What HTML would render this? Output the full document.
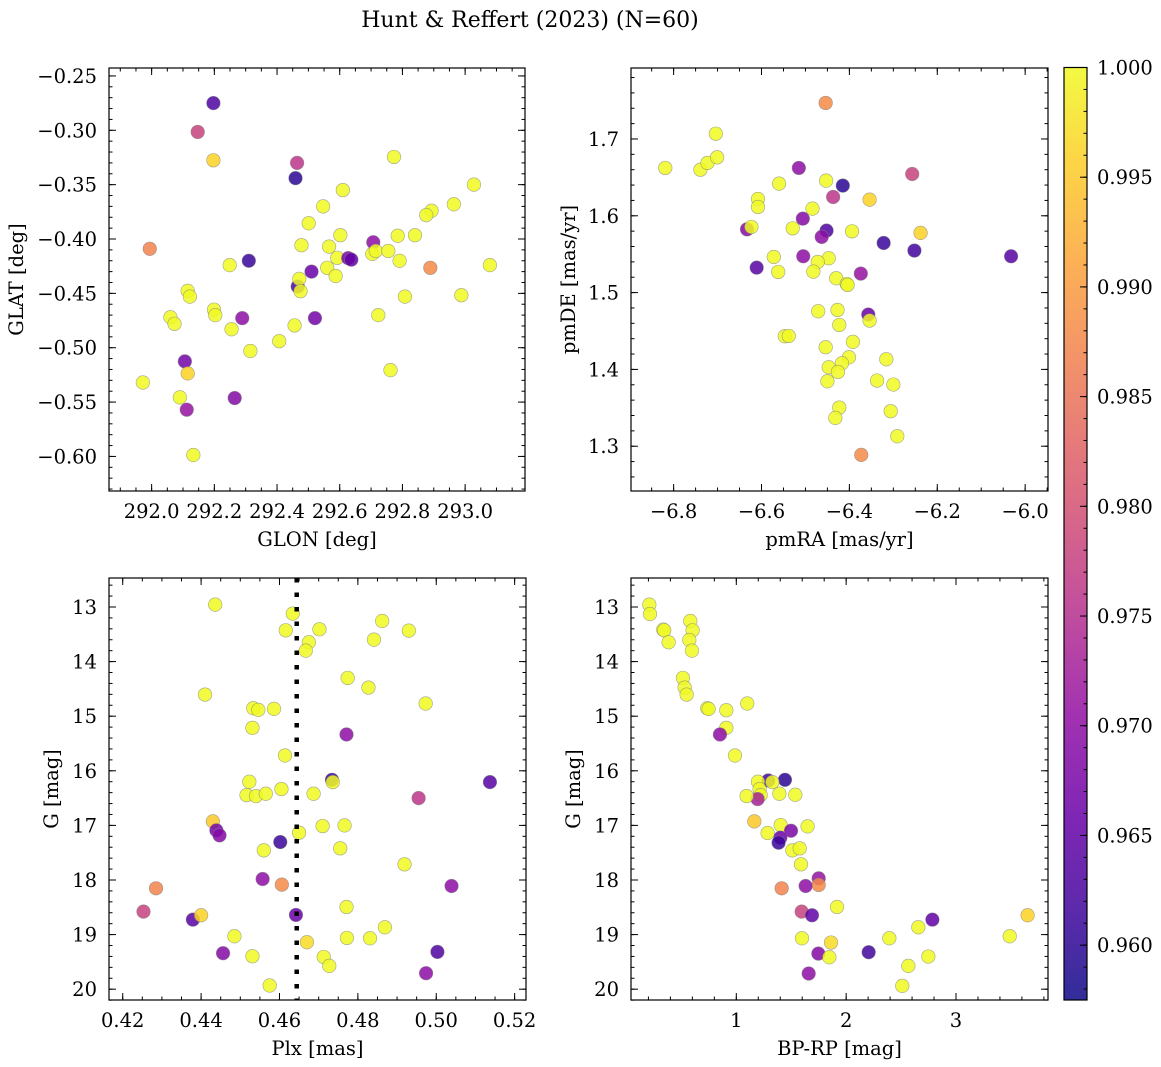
<!DOCTYPE html>
<html><head><meta charset="utf-8"><style>
html,body{margin:0;padding:0;background:#fff}
svg{display:block;font-family:"DejaVu Serif","Liberation Serif",serif}
</style></head><body>
<svg id="fig" width="1161" height="1067" viewBox="0 0 1161 1067" xmlns="http://www.w3.org/2000/svg"></svg>
<script>
// ---- Panel TL: GLON / GLAT ----
const tlGlon=[292.197,292.147,292.197,292.464,292.459,292.773,293.028,292.610,292.547,292.964,292.893,292.876,292.501,292.602,292.785,292.840,292.478,292.566,292.707,292.704,292.715,292.755,291.994,292.310,292.249,292.592,292.627,292.637,292.791,292.889,293.079,292.510,292.560,292.587,292.466,292.471,292.475,292.115,292.122,292.808,292.988,292.199,292.203,292.060,292.073,292.289,292.521,292.723,292.456,292.255,292.407,292.315,292.106,292.115,292.762,291.972,292.090,292.265,292.112,292.133];
const tlGlat=[-0.275,-0.3015,-0.3276,-0.330,-0.344,-0.3245,-0.350,-0.355,-0.370,-0.368,-0.374,-0.378,-0.3855,-0.3965,-0.397,-0.3965,-0.4057,-0.407,-0.403,-0.4137,-0.411,-0.411,-0.409,-0.420,-0.424,-0.4173,-0.4176,-0.419,-0.420,-0.4265,-0.424,-0.430,-0.4265,-0.434,-0.4437,-0.4367,-0.448,-0.4477,-0.453,-0.453,-0.4517,-0.465,-0.470,-0.472,-0.478,-0.4728,-0.4728,-0.470,-0.4795,-0.483,-0.494,-0.503,-0.5126,-0.5236,-0.5206,-0.532,-0.5457,-0.5463,-0.557,-0.5987];
const tlProb=[0.963,0.978,0.996,0.976,0.960,1,1,1,1,1,1,1,1,1,1,1,1,1,0.970,1,1,1,0.987,0.961,1,1,0.968,0.965,1,0.988,1,0.966,1,1,0.963,1,1,1,1,1,1,1,1,1,1,0.970,0.967,1,1,1,1,1,0.967,0.996,1,1,1,0.969,0.971,1];
// ---- Panel TR: pmRA / pmDE ----
const trPmra=[-6.454,-6.704,-6.819,-6.739,-6.723,-6.701,-6.515,-6.257,-6.560,-6.453,-6.415,-6.437,-6.354,-6.608,-6.608,-6.484,-6.506,-6.633,-6.623,-6.529,-6.452,-6.463,-6.394,-6.238,-6.322,-6.252,-6.032,-6.505,-6.572,-6.447,-6.472,-6.611,-6.562,-6.482,-6.374,-6.430,-6.406,-6.404,-6.471,-6.427,-6.357,-6.354,-6.423,-6.547,-6.538,-6.392,-6.454,-6.316,-6.401,-6.417,-6.447,-6.426,-6.450,-6.337,-6.300,-6.423,-6.432,-6.306,-6.291,-6.373];
const trPmde=[1.7469,1.7069,1.6623,1.660,1.6688,1.6761,1.6623,1.6544,1.6419,1.6458,1.6393,1.6245,1.621,1.6219,1.6115,1.6093,1.5963,1.5824,1.5855,1.5837,1.5807,1.5725,1.5798,1.5777,1.5646,1.5547,1.5473,1.5473,1.5464,1.5447,1.5399,1.5325,1.5269,1.5273,1.5247,1.5187,1.5113,1.510,1.4757,1.4774,1.4714,1.4636,1.4579,1.4432,1.4436,1.4358,1.4289,1.4132,1.4158,1.408,1.4028,1.3967,1.3846,1.3855,1.3803,1.3503,1.3369,1.3456,1.313,1.2887];
const trProb=[0.988,1,1,1,1,1,0.970,0.978,1,1,0.960,0.976,0.996,1,1,1,0.969,0.969,1,1,0.963,0.970,1,0.996,0.961,0.962,0.964,0.970,1,1,1,0.964,1,1,0.971,1,1,1,1,1,0.966,1,1,1,1,1,1,1,1,1,1,1,1,1,1,1,1,1,1,0.988];
// ---- Panel BL: Plx / G ----
const blPlx=[0.4436,0.4634,0.4616,0.4702,0.4675,0.4667,0.4862,0.4930,0.4841,0.4774,0.4827,0.4410,0.4973,0.4533,0.4546,0.4586,0.4531,0.4771,0.4614,0.4523,0.4734,0.4736,0.5137,0.4605,0.4516,0.4540,0.4565,0.4687,0.4955,0.4430,0.4439,0.4447,0.4650,0.4710,0.4766,0.4602,0.4560,0.4755,0.4919,0.4557,0.4606,0.5039,0.4285,0.4253,0.4771,0.4379,0.4400,0.4642,0.4869,0.4485,0.4670,0.4772,0.4831,0.4456,0.4531,0.4713,0.4727,0.5003,0.4974,0.4575];
const blG=[12.957,13.122,13.427,13.409,13.646,13.799,13.256,13.433,13.598,14.299,14.476,14.604,14.768,14.854,14.884,14.866,15.213,15.335,15.72,16.201,16.165,16.207,16.207,16.335,16.445,16.463,16.421,16.421,16.5,16.927,17.091,17.183,17.134,17.012,17.0,17.305,17.457,17.42,17.713,17.982,18.085,18.11,18.152,18.579,18.494,18.726,18.646,18.64,18.866,19.03,19.14,19.061,19.067,19.341,19.396,19.409,19.573,19.317,19.707,19.933];
const blProb=[1,1,1,1,1,1,1,1,1,1,1,1,1,1,1,1,1,0.970,1,1,0.961,1,0.964,1,1,1,1,1,0.976,0.995,0.967,0.969,1,1,1,0.961,1,1,1,0.970,0.988,0.970,0.987,0.978,1,0.964,0.996,0.966,1,1,0.997,1,1,0.969,1,1,1,0.963,0.970,1];
const plxMean=[0.4644];
// ---- Panel BR: BP-RP / G ----
const brBprp=[0.208,0.214,0.581,0.335,0.344,0.602,0.572,0.384,0.596,0.514,0.530,0.548,1.100,0.736,0.748,0.909,0.909,0.851,0.988,1.291,1.443,1.197,1.328,1.212,1.222,1.194,1.094,1.392,1.537,1.164,1.404,1.649,1.498,1.401,1.385,1.285,1.51,1.577,1.589,1.750,1.750,1.631,1.413,1.917,1.595,1.689,2.785,2.657,3.652,1.598,1.862,2.393,3.489,1.747,1.847,2.205,2.748,2.566,1.659,2.511];
const brG=[12.957,13.128,13.256,13.415,13.427,13.427,13.604,13.646,13.799,14.299,14.476,14.604,14.768,14.854,14.866,14.890,15.213,15.335,15.72,16.177,16.165,16.201,16.207,16.335,16.445,16.518,16.463,16.421,16.439,16.927,16.994,17.018,17.098,17.226,17.317,17.14,17.457,17.42,17.713,17.97,18.091,18.11,18.152,18.494,18.579,18.646,18.726,18.866,18.646,19.067,19.146,19.067,19.03,19.348,19.415,19.323,19.402,19.573,19.713,19.939];
const brProb=[1,1,1,1,1,1,1,1,1,1,1,1,1,1,1,1,1,0.970,1,0.962,0.960,1,1,1,1,0.973,1,1,1,0.995,1,1,0.968,0.966,0.961,1,1,1,1,0.971,0.988,0.970,0.987,1,0.978,0.965,0.965,1,0.996,1,0.997,1,1,0.969,1,0.962,1,1,0.970,1];
// ---- colorbar ----
const cbTicks=[1.000,0.995,0.990,0.985,0.980,0.975,0.970,0.965,0.960];
const tlXTicks=[292.0,292.2,292.4,292.6,292.8,293.0];
const tlYTicks=[-0.25,-0.30,-0.35,-0.40,-0.45,-0.50,-0.55,-0.60];
const trXTicks=[-6.8,-6.6,-6.4,-6.2,-6.0];
const trYTicks=[1.3,1.4,1.5,1.6,1.7];
const blXTicks=[0.42,0.44,0.46,0.48,0.50,0.52];
const gTicks=[13,14,15,16,17,18,19,20];
const brXTicks=[1,2,3];

const FS=19.5;
const NS="http://www.w3.org/2000/svg";
const svg=document.getElementById('fig');
function mk(tag,attrs,parent){const e=document.createElementNS(NS,tag);for(const k in attrs)e.setAttribute(k,attrs[k]);(parent||svg).appendChild(e);return e;}
const VMIN=0.9575,VMAX=1.0;
const plasma=[[13,8,135],[65,4,157],[106,0,168],[143,13,164],[177,42,144],[204,71,120],[225,100,98],[242,132,75],[252,166,54],[252,206,37],[240,249,33]];
function cmap(v){let t=(v-VMIN)/(VMAX-VMIN);t=Math.max(0,Math.min(1,t));const p=t*10,i=Math.min(9,Math.floor(p)),f=p-i;const a=plasma[i],b=plasma[i+1];return 'rgb('+a.map((c,j)=>Math.round(c+(b[j]-c)*f)).join(',')+')';}
function lin(d0,d1,p0,p1){return v=>p0+(v-d0)*(p1-p0)/(d1-d0);}
function fmt(v,dec){return (v<0?'\u2212':'')+Math.abs(v).toFixed(dec);}

function panel(name,box,xd,yd,xTicks,xDec,yTicks,yDec,xMinor,yMinor,xLabel,yLabel,yLabelX,px,py,pp){
  const g=mk('g',{});
  
  
  const [L,T,R,B]=box;
  const X=lin(xd[0],xd[1],L,R),Y=lin(yd[0],yd[1],T,B);
  const clipId=name+'-clip';
  const cp=mk('clipPath',{id:clipId},g);mk('rect',{x:L,y:T,width:R-L,height:B-T},cp);
  const pts=mk('g',{'clip-path':'url(#'+clipId+')'},g);
  
  
  for(let i=0;i<px.length;i++){
    const c=mk('circle',{cx:X(px[i]).toFixed(2),cy:Y(py[i]).toFixed(2),r:6.8,fill:cmap(pp[i]),'fill-opacity':0.85,stroke:'#808080','stroke-opacity':0.7,'stroke-width':0.6},pts);
    
    
  }
  return {g,X,Y,L,T,R,B,finish(){
    const fr=mk('rect',{x:L,y:T,width:R-L,height:B-T,fill:'none',stroke:'#000','stroke-width':1.2},g);
    
    
    const tk=mk('g',{stroke:'#000','stroke-width':1},g);
    
    
    for(let v=xMinor[0];v<=xMinor[1]+1e-9;v+=xMinor[2]){const x=X(v);if(x<L-0.5||x>R+0.5)continue;mk('line',{x1:x,x2:x,y1:B,y2:B-3.5},tk);mk('line',{x1:x,x2:x,y1:T,y2:T+3.5},tk);}
    for(let v=yMinor[0];v<=yMinor[1]+1e-9;v+=yMinor[2]){const y=Y(v);if(y<T-0.5||y>B+0.5)continue;mk('line',{x1:L,x2:L+3.5,y1:y,y2:y},tk);mk('line',{x1:R,x2:R-3.5,y1:y,y2:y},tk);}
    xTicks.forEach(v=>{const x=X(v);mk('line',{x1:x,x2:x,y1:B,y2:B-7},tk);mk('line',{x1:x,x2:x,y1:T,y2:T+7},tk);
      const t=mk('text',{x:x,y:B+27,'text-anchor':'middle','font-size':FS,fill:'#000'},g);t.textContent=fmt(v,xDec);
      
      });
    yTicks.forEach(v=>{const y=Y(v);mk('line',{x1:L,x2:L+7,y1:y,y2:y},tk);mk('line',{x1:R,x2:R-7,y1:y,y2:y},tk);
      const t=mk('text',{x:L-12,y:y+7,'text-anchor':'end','font-size':FS,fill:'#000'},g);t.textContent=fmt(v,yDec);
      
      });
    const xl=mk('text',{x:(L+R)/2,y:B+55,'text-anchor':'middle','font-size':FS,fill:'#000'},g);xl.textContent=xLabel;
    
    
    const yl=mk('text',{x:0,y:0,'text-anchor':'middle','font-size':FS,fill:'#000',transform:'translate('+yLabelX+','+((T+B)/2)+') rotate(-90)'},g);yl.textContent=yLabel;
    
    
  }};
}

const title=mk('text',{x:530,y:27,'text-anchor':'middle','font-size':22,fill:'#000'});
title.textContent='Hunt & Reffert (2023) (N=60)';



const p1=panel('glon-glat-panel',[109,68,525,491],[291.864,293.191],[-0.2427,-0.6318],tlXTicks,1,tlYTicks,2,[291.85,293.2,0.05],[-0.64,-0.24,0.01],'GLON [deg]','GLAT [deg]',23,tlGlon,tlGlat,tlProb);
p1.finish();
const p2=panel('pm-panel',[631,68,1048,491],[-6.897,-5.948],[1.7924,1.2417],trXTicks,1,trYTicks,1,[-6.9,-5.9,0.05],[1.24,1.8,0.02],'pmRA [mas/yr]','pmDE [mas/yr]',575,trPmra,trPmde,trProb);
p2.finish();
const p3=panel('plx-g-panel',[109,578,526,1000],[0.4165,0.5229],[12.469,20.198],blXTicks,2,gTicks,0,[0.415,0.525,0.005],[12.4,20.2,0.2],'Plx [mas]','G [mag]',58,blPlx,blG,blProb);
plxMean.forEach(v=>{const ln=mk('line',{x1:p3.X(v),x2:p3.X(v),y1:p3.T,y2:p3.B,stroke:'#000','stroke-width':4.5,'stroke-dasharray':'4.5 10'},p3.g);
  
  });
p3.finish();
const p4=panel('cmd-panel',[631,578,1048,1000],[0.0414,3.8375],[12.469,20.198],brXTicks,0,gTicks,0,[0.2,3.8,0.2],[12.4,20.2,0.2],'BP-RP [mag]','G [mag]',580,brBprp,brG,brProb);
p4.finish();

// colorbar
const cb=mk('g',{});


const defs=mk('defs',{},cb);
const lg=mk('linearGradient',{id:'plasmaGrad',x1:0,y1:1,x2:0,y2:0},defs);
plasma.forEach((c,i)=>mk('stop',{offset:(i/10),'stop-color':'rgb('+c.join(',')+')','stop-opacity':0.85},lg));
const CL=1064,CR=1087,CT=67.5,CB=1000;
const CY=lin(VMIN,VMAX,CB,CT);
const cbr=mk('rect',{x:CL,y:CT,width:CR-CL,height:CB-CT,fill:'url(#plasmaGrad)',stroke:'#000','stroke-width':1.2},cb);


for(let v=0.958;v<=1.0001;v+=0.001){const y=CY(v);mk('line',{x1:CR,x2:CR-3.5,y1:y,y2:y,stroke:'#000','stroke-width':1},cb);}
cbTicks.forEach(v=>{const y=CY(v);mk('line',{x1:CR,x2:CR-7,y1:y,y2:y,stroke:'#000','stroke-width':1},cb);
  const t=mk('text',{x:CR+10,y:y+7,'font-size':FS,fill:'#000'},cb);t.textContent=v.toFixed(3);
  
  });
</script>
</body></html>
